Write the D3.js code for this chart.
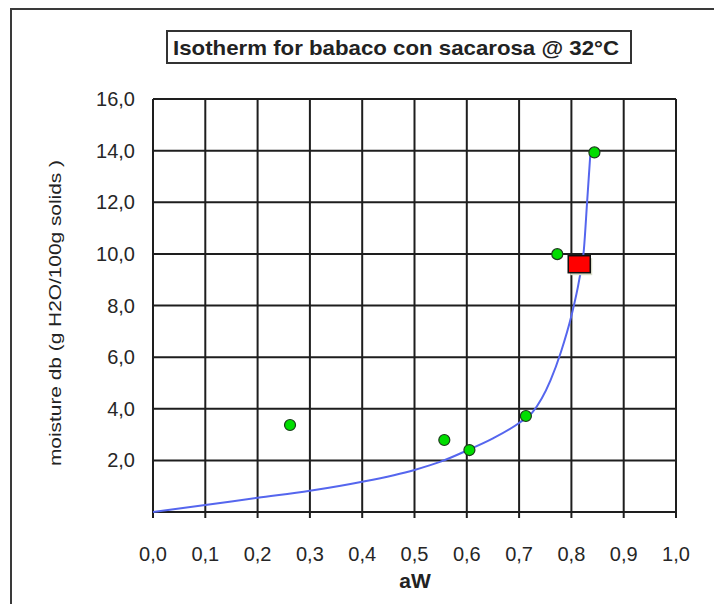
<!DOCTYPE html>
<html>
<head>
<meta charset="utf-8">
<script src="https://d3js.org/d3.v7.min.js"></script>
<style>
  body { margin: 0; background: #fff; }
  .tick-label { font-family: "Liberation Sans", Arial, sans-serif; font-size: 20px; fill: #262626; }
  .title { font-family: "Liberation Sans", Arial, sans-serif; font-size: 21px; font-weight: bold; fill: #222; }
  .axis-title { font-family: "Liberation Sans", Arial, sans-serif; fill: #222; }
</style>
</head>
<body>
<script>
// observed points
var awObs = [0.262, 0.557, 0.605, 0.713, 0.773, 0.844];
var mObs  = [3.37, 2.79, 2.40, 3.72, 9.99, 13.93];
// fitted isotherm line
var awFit = [0.00, 0.10, 0.20, 0.30, 0.40, 0.50, 0.55, 0.60, 0.65, 0.70, 0.725, 0.76, 0.78, 0.80, 0.815, 0.824, 0.830, 0.836];
var mFit  = [0.00, 0.27, 0.55, 0.82, 1.17, 1.63, 1.95, 2.38, 2.85, 3.45, 3.85, 5.10, 6.20, 7.60, 9.00, 10.20, 12.00, 13.80];
// predicted point
var awPred = [0.815];
var mPred  = [9.6];
var xTicks = [0, 0.1, 0.2, 0.3, 0.4, 0.5, 0.6, 0.7, 0.8, 0.9, 1.0];
var yTicks = [2, 4, 6, 8, 10, 12, 14, 16];

var width = 714, height = 604;
var svg = d3.select("body").append("svg").attr("width", width).attr("height", height);

// outer chart frame (runs off the right and bottom)
svg.append("rect").attr("x", 11).attr("y", 9).attr("width", 720).attr("height", 620)
   .attr("fill", "none").attr("stroke", "#3a3a3a").attr("stroke-width", 2);

var x = d3.scaleLinear().domain([0, 1]).range([153, 676]);
var y = d3.scaleLinear().domain([0, 16]).range([512, 99]);
var fmt = function(v) { return d3.format(".1f")(v).replace(".", ","); };

// grid
svg.append("g").selectAll("line").data(xTicks).enter().append("line")
   .attr("x1", function(d){ return x(d); }).attr("x2", function(d){ return x(d); })
   .attr("y1", y(16)).attr("y2", y(0) + 6)
   .attr("stroke", "#1e1e1e").attr("stroke-width", 2);
svg.append("g").selectAll("line").data(yTicks.concat([0])).enter().append("line")
   .attr("x1", x(0)).attr("x2", x(1))
   .attr("y1", function(d){ return y(d); }).attr("y2", function(d){ return y(d); })
   .attr("stroke", "#1e1e1e").attr("stroke-width", 2);

// tick labels
svg.append("g").selectAll("text").data(xTicks).enter().append("text")
   .classed("tick-label", true)
   .attr("x", function(d){ return x(d); }).attr("y", 561)
   .attr("text-anchor", "middle").text(fmt);
svg.append("g").selectAll("text").data(yTicks).enter().append("text")
   .classed("tick-label", true)
   .attr("x", 135).attr("y", function(d){ return y(d) + 7; })
   .attr("text-anchor", "end").text(fmt);

// axis titles
svg.append("text").classed("axis-title", true)
   .attr("x", 415).attr("y", 588).attr("text-anchor", "middle")
   .style("font-size", "21px").style("font-weight", "bold").text("aW");
svg.append("text").classed("axis-title", true)
   .attr("transform", "translate(61,313) rotate(-90)").attr("text-anchor", "middle")
   .attr("textLength", 306).attr("lengthAdjust", "spacingAndGlyphs")
   .style("font-size", "17px").text("moisture db  (g H2O/100g solids )");

// title box
svg.append("rect").attr("x", 167).attr("y", 31).attr("width", 464).attr("height", 32)
   .attr("fill", "#fff").attr("stroke", "#333").attr("stroke-width", 2);
svg.append("text").classed("title", true)
   .attr("x", 396).attr("y", 55).attr("text-anchor", "middle")
   .attr("textLength", 446).attr("lengthAdjust", "spacingAndGlyphs")
   .text("Isotherm for babaco con sacarosa @ 32°C");

// fitted curve
var line = d3.line().x(function(d){ return x(d[0]); }).y(function(d){ return y(d[1]); })
             .curve(d3.curveMonotoneX);
svg.append("path").datum(d3.zip(awFit, mFit)).attr("d", line)
   .attr("fill", "none").attr("stroke", "#5566ee").attr("stroke-width", 2);

// observed points
svg.append("g").selectAll("circle").data(d3.zip(awObs, mObs)).enter().append("circle")
   .attr("cx", function(d){ return x(d[0]); }).attr("cy", function(d){ return y(d[1]); })
   .attr("r", 5.5).attr("fill", "#00dd00").attr("stroke", "#1b3a1b").attr("stroke-width", 1.2);

// predicted point
var pred = svg.append("g").selectAll("g").data(d3.zip(awPred, mPred)).enter().append("g");
pred.append("rect")
   .attr("x", function(d){ return x(d[0]) - 9; }).attr("y", function(d){ return y(d[1]) - 6; })
   .attr("width", 22).attr("height", 17).attr("fill", "#d8dcc8");
pred.append("rect")
   .attr("x", function(d){ return x(d[0]) - 11; }).attr("y", function(d){ return y(d[1]) - 8.5; })
   .attr("width", 22).attr("height", 17).attr("fill", "#ff0000")
   .attr("stroke", "#111").attr("stroke-width", 1.5);
</script>
</body>
</html>
